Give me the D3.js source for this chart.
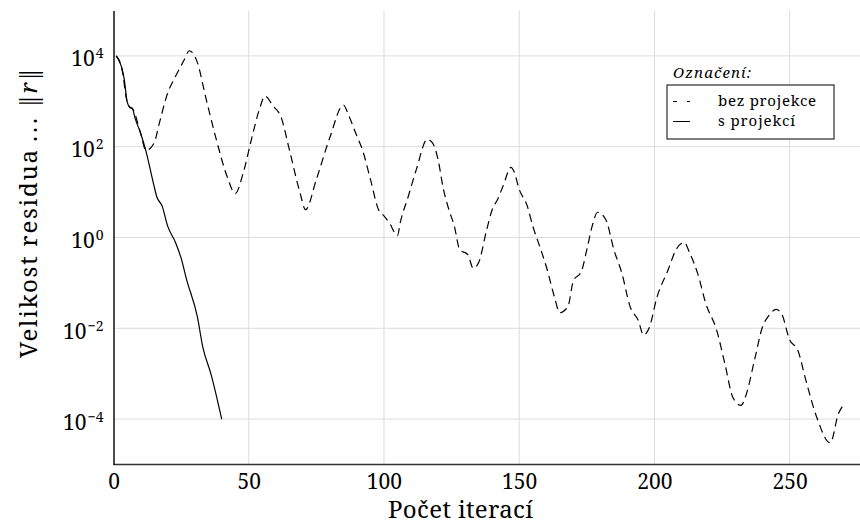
<!DOCTYPE html>
<html>
<head>
<meta charset="utf-8">
<script src="https://cdn.jsdelivr.net/npm/d3@7"></script>
<style>
  html, body { margin: 0; padding: 0; background: #fff; }
  svg { display: block; }
</style>
</head>
<body>
<svg id="chart" width="860" height="525"></svg>
<script>
// Residual norm per iteration, without and with projection
const iterBez = [1, 3, 5, 6, 7, 10, 12, 15, 17, 20, 23, 26, 28, 31, 34, 38, 42, 45, 48, 51,
  54, 56, 59, 62, 65, 69, 71, 75, 80, 85, 87, 90, 92, 95, 98, 100, 102, 105, 106, 109,
  112, 116, 118, 120, 122, 124, 126, 128, 131, 133, 135, 138, 140, 142, 144, 147, 148, 150, 153, 155,
  158, 160, 163, 165, 168, 170, 173, 175, 177, 179, 182, 185, 188, 191, 194, 196, 198, 201, 205, 208,
  211, 213, 216, 219, 223, 226, 229, 232, 234, 237, 240, 242, 245, 247, 250, 253, 256, 260, 265, 268, 270];
const resBez = [1.0e4, 5.6e3, 1.0e3, 740, 690, 200, 83, 120, 340, 1.5e3, 3.6e3, 7.9e3, 1.3e4, 7.2e3, 1.3e3, 145, 22, 9.3, 27, 145,
  680, 1.3e3, 790, 440, 87, 9.5, 4.1, 19, 160, 830, 480, 170, 87, 19, 4.1, 3.0, 2.1, 1.1, 2.1, 8.1,
  32, 145, 120, 52, 11.5, 4.1, 1.8, 0.54, 0.42, 0.21, 0.28, 1.5, 4.1, 6.9, 13.5, 35, 29, 11.5, 4.9, 1.8,
  0.54, 0.23, 0.050, 0.022, 0.030, 0.11, 0.18, 0.54, 1.8, 3.6, 2.5, 0.54, 0.16, 0.030, 0.015, 0.0071, 0.010, 0.050, 0.19, 0.54,
  0.78, 0.46, 0.16, 0.035, 0.0091, 1.7e-3, 3.0e-4, 2.0e-4, 3.6e-4, 2.0e-3, 0.011, 0.018, 0.026, 0.021, 5.5e-3, 3.3e-3, 7.1e-4, 1.1e-4, 3.0e-5, 1.3e-4, 2.1e-4];

const iterS = [1, 2, 3, 4, 5, 6, 7, 8, 10, 12, 15, 16, 18, 20, 23, 25, 27, 31, 33, 36, 40];
const resS = [1.0e4, 7.9e3, 5.6e3, 3.0e3, 1.0e3, 740, 690, 420, 200, 80, 13.5, 7.9, 4.9, 1.8, 0.76, 0.35, 0.12, 0.018, 3.9e-3, 1.0e-3, 1.0e-4];

const xTicks = [0, 50, 100, 150, 200, 250];
const yTickExp = [4, 2, 0, -2, -4];

const seriesNames = ["bez projekce", "s projekcí"];
const legendTitle = "Označení:";
const xTitle = "Počet iterací";
const yTitle = "Velikost residua";

const svg = d3.select("#chart");
const serif = "'Noto Serif', 'Liberation Serif', serif";

// spread glyphs so a label covers the given width
function fitWidth(sel, target) {
  const node = sel.node();
  const w = node.getComputedTextLength();
  const n = node.textContent.length;
  sel.attr("letter-spacing", (target - w) / Math.max(1, n - 1));
  return sel;
}

const x = d3.scaleLinear().domain([0, 276]).range([113.5, 860]);
const y = d3.scaleLog().domain([1e-5, 1e5]).range([464.5, 10.5]);

// grid
const grid = svg.append("g").attr("stroke", "#dcdcdc").attr("stroke-width", 1);
grid.selectAll("line.v").data(xTicks.filter(d => d > 0)).join("line")
  .attr("x1", d => x(d)).attr("x2", d => x(d))
  .attr("y1", y(1e5)).attr("y2", y(1e-5));
grid.selectAll("line.h").data(yTickExp).join("line")
  .attr("x1", x(0)).attr("x2", 860)
  .attr("y1", d => y(Math.pow(10, d))).attr("y2", d => y(Math.pow(10, d)));

// axes
const xAxis = d3.axisBottom(x).tickValues(xTicks).tickSize(0).tickPadding(10).tickFormat(d3.format("d"));
const gx = svg.append("g").attr("transform", `translate(0,${y(1e-5)})`).call(xAxis);
gx.select(".domain").attr("stroke", "#333").attr("stroke-width", 1.5).attr("d", `M${x(0)},0H860`);
gx.selectAll(".tick text").attr("font-family", serif).attr("font-size", 21).attr("fill", "#000")
  .attr("dy", null).attr("y", 24.5);

const yAxis = d3.axisLeft(y).tickValues(yTickExp.map(e => Math.pow(10, e))).tickSize(0).tickPadding(10).tickFormat("");
const gy = svg.append("g").attr("transform", `translate(${x(0)},0)`).call(yAxis);
gy.select(".domain").attr("stroke", "#111").attr("stroke-width", 1.5);
gy.selectAll(".tick").each(function(d) {
  const e = Math.round(Math.log10(d));
  const t = d3.select(this).select("text")
    .attr("font-family", serif).attr("fill", "#000").attr("dy", null).attr("y", 10)
    .attr("text-anchor", "end").attr("x", -10);
  t.text(null);
  t.append("tspan").attr("font-size", 21).text("10");
  t.append("tspan").attr("font-size", 14).attr("dx", 1).attr("dy", -8)
    .text(e < 0 ? "\u2212" + Math.abs(e) : String(e));
});

// series
const line = d3.line().x(d => x(d[0])).y(d => y(d[1])).curve(d3.curveMonotoneX);
const dataS = iterS.map((d, i) => [d, resS[i]]);
const dataBez = iterBez.map((d, i) => [d, resBez[i]]);

svg.append("path").datum(dataS).attr("d", line)
  .attr("fill", "none").attr("stroke", "#000").attr("stroke-width", 1.2);
svg.append("path").datum(dataBez).attr("d", line)
  .attr("fill", "none").attr("stroke", "#000").attr("stroke-width", 1.2)
  .attr("stroke-dasharray", "8,5");

// axis titles
const xt = svg.append("text").attr("x", 388).attr("y", 518)
  .attr("font-family", serif).attr("font-size", 24).text(xTitle);
fitWidth(xt, 145);

const ytg = svg.append("g").attr("font-family", serif).attr("font-size", 24);
const yMain = ytg.append("text").attr("transform", "translate(37,358) rotate(-90)").text(yTitle);
fitWidth(yMain, 208);
ytg.append("text").attr("transform", "translate(37,142) rotate(-90)")
  .attr("letter-spacing", 3).text("...");
const norm = ytg.append("text").attr("transform", "translate(37,108) rotate(-90)");
norm.append("tspan").text("\u2016");
norm.append("tspan").attr("font-style", "italic").attr("dx", 1).text("r");
norm.append("tspan").attr("dx", 1).text("\u2016");

// legend
const lg = svg.append("g").attr("font-family", serif);
fitWidth(lg.append("text").attr("x", 673).attr("y", 78)
  .attr("font-style", "italic").attr("font-size", 15)
  .text(legendTitle), 78);
lg.append("rect").attr("x", 667).attr("y", 85).attr("width", 167).attr("height", 54)
  .attr("fill", "#fff").attr("stroke", "#000").attr("stroke-width", 1);
const rows = [
  { name: seriesNames[0], dash: "4,10", w: 98 },
  { name: seriesNames[1], dash: null, w: 77 }
];
rows.forEach((r, i) => {
  const yy = 101.5 + i * 20;
  lg.append("line").attr("x1", 673).attr("x2", 690).attr("y1", yy).attr("y2", yy)
    .attr("stroke", "#000").attr("stroke-width", 1)
    .attr("stroke-dasharray", r.dash);
  fitWidth(lg.append("text").attr("x", 718).attr("y", 105.5 + i * 20)
    .attr("font-size", 15).text(r.name), r.w);
});
</script>
</body>
</html>
